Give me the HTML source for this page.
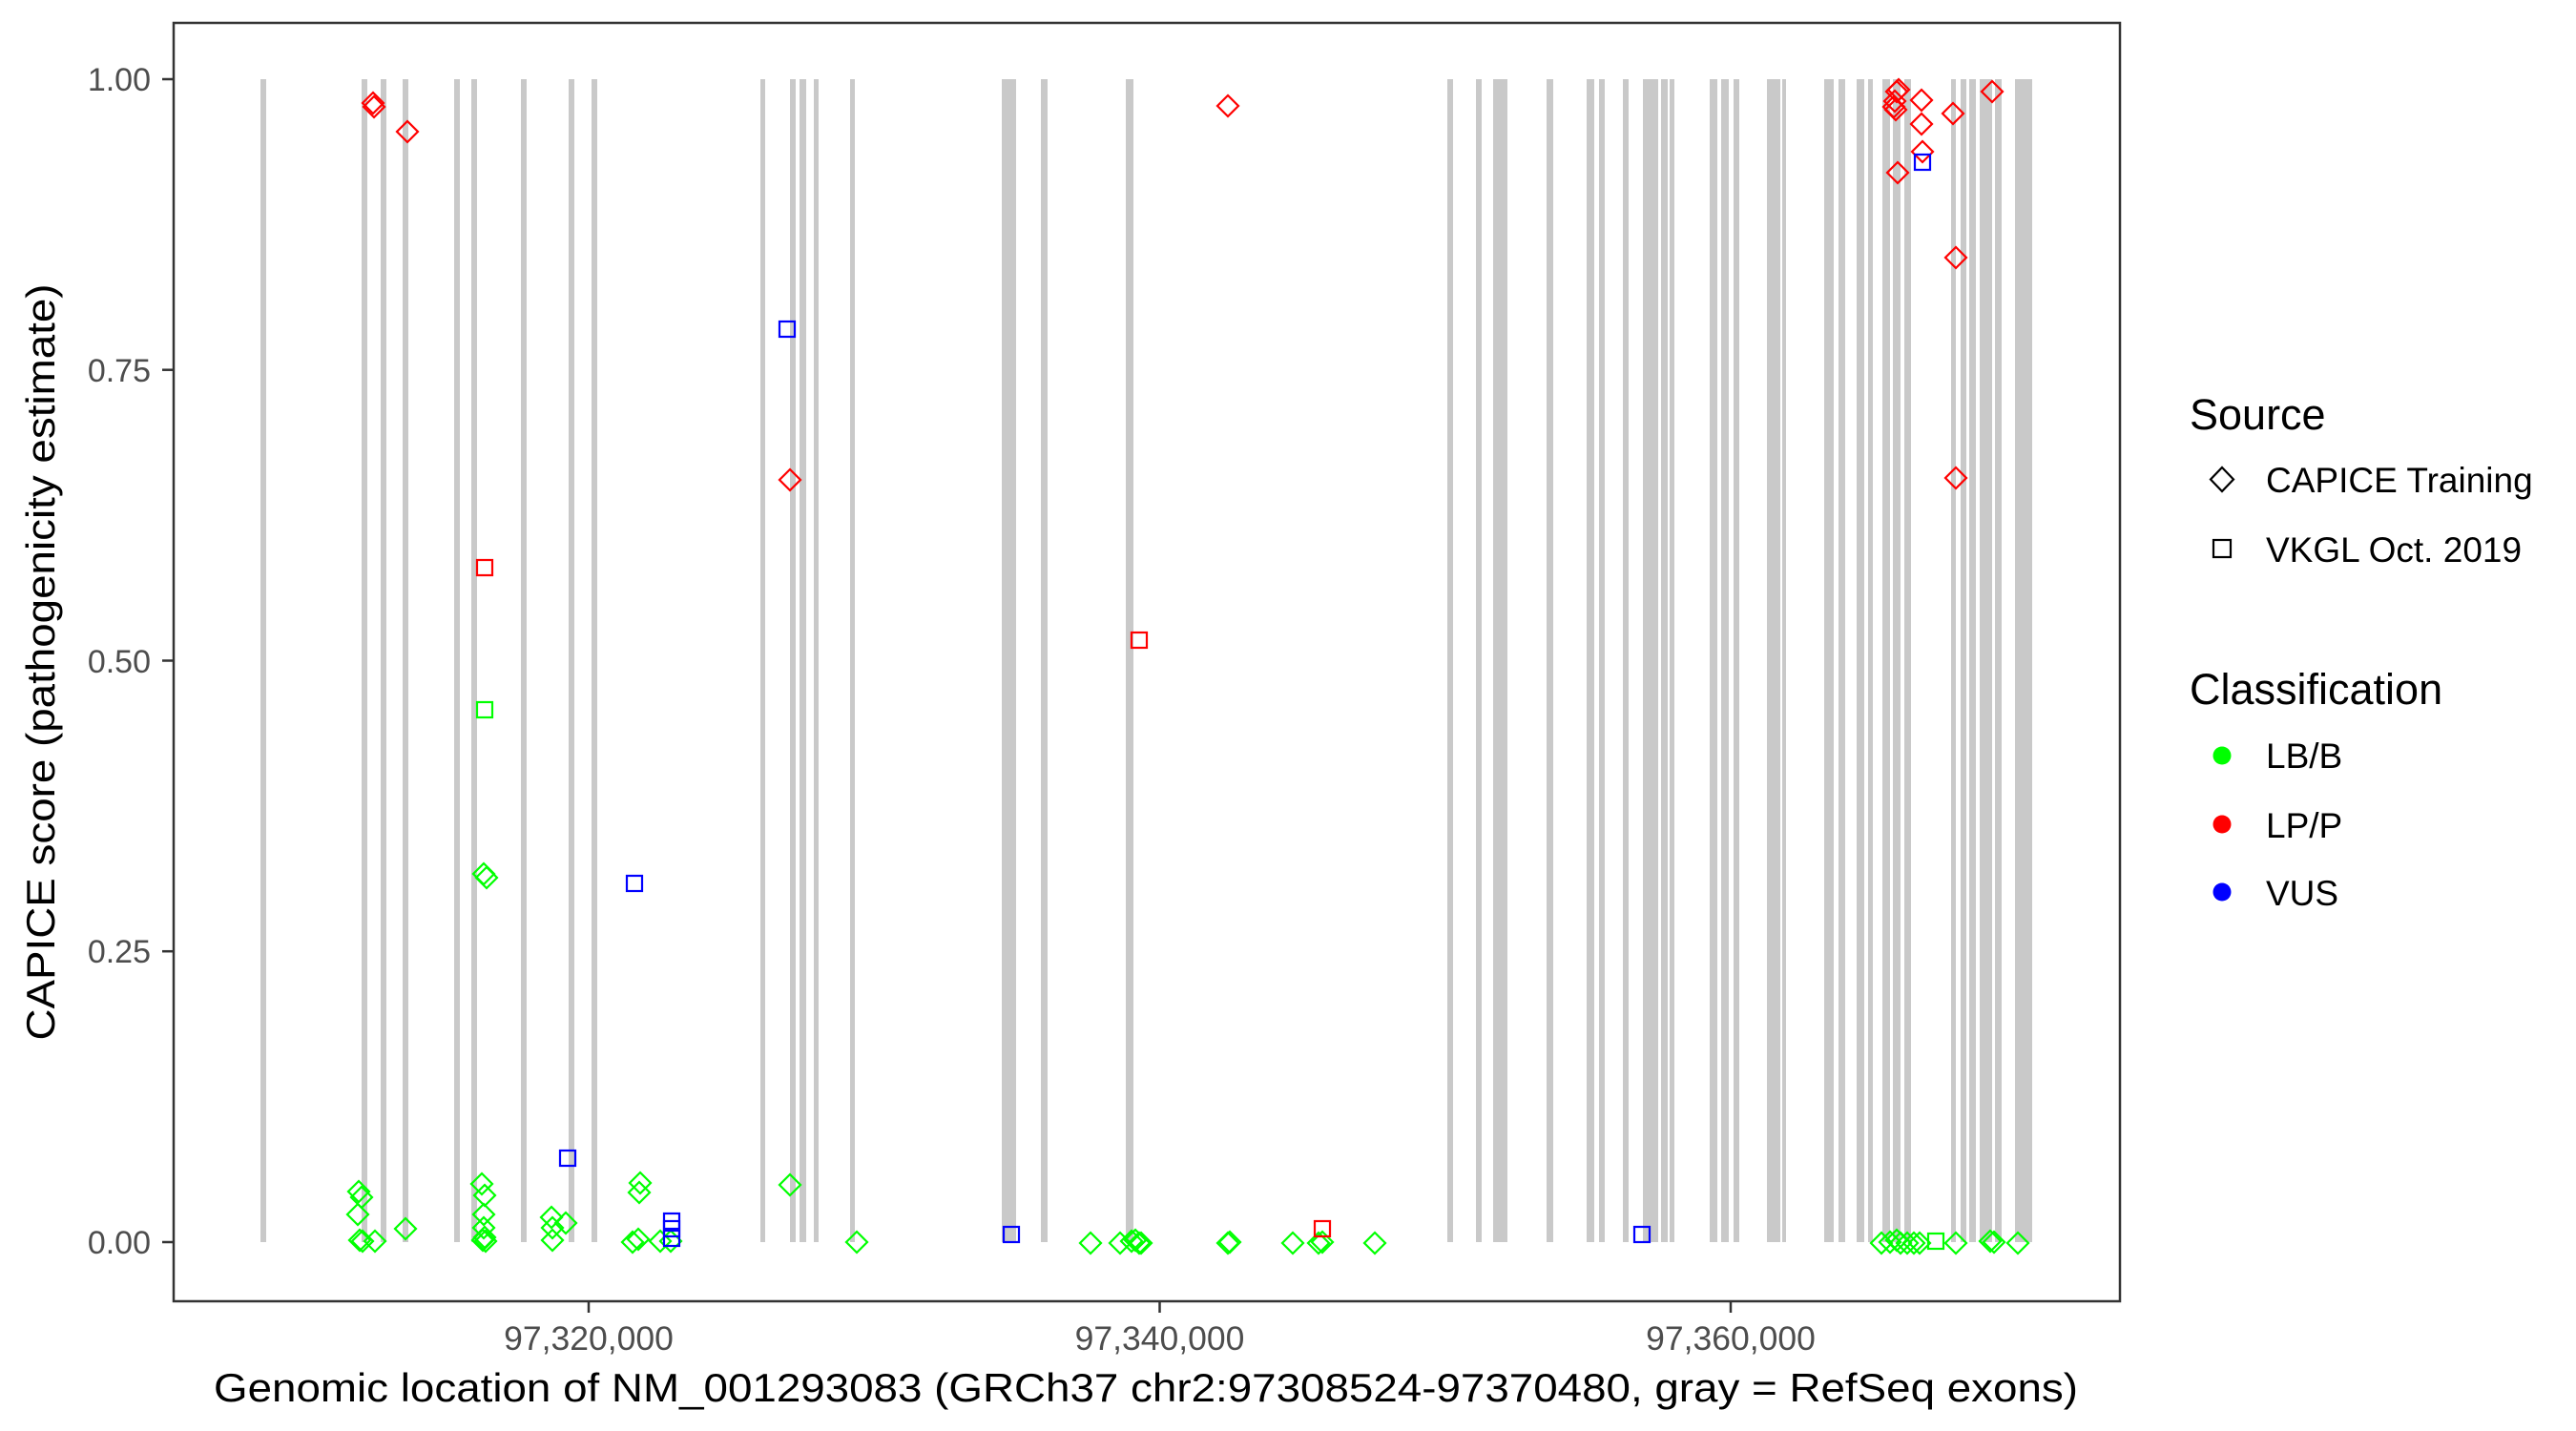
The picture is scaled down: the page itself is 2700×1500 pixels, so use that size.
<!DOCTYPE html>
<html><head><meta charset="utf-8"><style>html,body{margin:0;padding:0;background:#fff}svg{display:block}</style></head>
<body>
<svg width="2700" height="1500" viewBox="0 0 2700 1500" xmlns="http://www.w3.org/2000/svg" font-family="Liberation Sans, Arial, sans-serif">
<defs>
<path id="d" d="M0,-11L11,0L0,11L-11,0Z"/>
<rect id="s" x="-8" y="-8" width="16" height="16"/>
</defs>
<rect width="2700" height="1500" fill="#fff"/>
<g fill="#c9c9c9">
<rect x="273" y="83" width="6" height="1219"/>
<rect x="379" y="83" width="6" height="1219"/>
<rect x="399" y="83" width="6" height="1219"/>
<rect x="422" y="83" width="6" height="1219"/>
<rect x="476" y="83" width="6" height="1219"/>
<rect x="494" y="83" width="6" height="1219"/>
<rect x="546" y="83" width="6" height="1219"/>
<rect x="596" y="83" width="6" height="1219"/>
<rect x="620" y="83" width="6" height="1219"/>
<rect x="797" y="83" width="5" height="1219"/>
<rect x="828" y="83" width="6" height="1219"/>
<rect x="838" y="83" width="7" height="1219"/>
<rect x="853" y="83" width="5" height="1219"/>
<rect x="891" y="83" width="5" height="1219"/>
<rect x="1050" y="83" width="15" height="1219"/>
<rect x="1091" y="83" width="7" height="1219"/>
<rect x="1180" y="83" width="8" height="1219"/>
<rect x="1517" y="83" width="6" height="1219"/>
<rect x="1547" y="83" width="6" height="1219"/>
<rect x="1565" y="83" width="15" height="1219"/>
<rect x="1621" y="83" width="7" height="1219"/>
<rect x="1663" y="83" width="8" height="1219"/>
<rect x="1676" y="83" width="6" height="1219"/>
<rect x="1701" y="83" width="6" height="1219"/>
<rect x="1722" y="83" width="16" height="1219"/>
<rect x="1741" y="83" width="7" height="1219"/>
<rect x="1750" y="83" width="5" height="1219"/>
<rect x="1792" y="83" width="8" height="1219"/>
<rect x="1804" y="83" width="8" height="1219"/>
<rect x="1817" y="83" width="6" height="1219"/>
<rect x="1852" y="83" width="14" height="1219"/>
<rect x="1868" y="83" width="4" height="1219"/>
<rect x="1912" y="83" width="10" height="1219"/>
<rect x="1927" y="83" width="7" height="1219"/>
<rect x="1946" y="83" width="8" height="1219"/>
<rect x="1958" y="83" width="5" height="1219"/>
<rect x="1973" y="83" width="8" height="1219"/>
<rect x="1984" y="83" width="8" height="1219"/>
<rect x="1996" y="83" width="7" height="1219"/>
<rect x="2045" y="83" width="5" height="1219"/>
<rect x="2055" y="83" width="6" height="1219"/>
<rect x="2064" y="83" width="7" height="1219"/>
<rect x="2075" y="83" width="13" height="1219"/>
<rect x="2091" y="83" width="7" height="1219"/>
<rect x="2112" y="83" width="18" height="1219"/>
</g>
<g fill="none" stroke-width="2.2">
<g stroke="#00ff00">
<use href="#s" x="508" y="744"/><use href="#s" x="2029" y="1301"/>
<use href="#d" x="507" y="916"/><use href="#d" x="510" y="920"/><use href="#d" x="376" y="1249"/><use href="#d" x="379" y="1255"/><use href="#d" x="375" y="1273"/><use href="#d" x="377" y="1300"/><use href="#d" x="380" y="1301"/><use href="#d" x="393" y="1301"/><use href="#d" x="425" y="1288"/><use href="#d" x="505" y="1241"/><use href="#d" x="508" y="1253"/><use href="#d" x="507" y="1273"/><use href="#d" x="507" y="1287"/><use href="#d" x="508" y="1297"/><use href="#d" x="509" y="1301"/><use href="#d" x="506" y="1300"/><use href="#d" x="578" y="1276"/><use href="#d" x="579" y="1287"/><use href="#d" x="593" y="1282"/><use href="#d" x="579" y="1300"/><use href="#d" x="671" y="1240"/><use href="#d" x="670" y="1250"/><use href="#d" x="663" y="1302"/><use href="#d" x="669" y="1299"/><use href="#d" x="692" y="1301"/><use href="#d" x="703" y="1301"/><use href="#d" x="828" y="1242"/><use href="#d" x="898" y="1302"/><use href="#d" x="1143" y="1303"/><use href="#d" x="1174" y="1303"/><use href="#d" x="1186" y="1301"/><use href="#d" x="1190" y="1300"/><use href="#d" x="1194" y="1303"/><use href="#d" x="1196" y="1303"/><use href="#d" x="1287" y="1303"/><use href="#d" x="1289" y="1302"/><use href="#d" x="1355" y="1303"/><use href="#d" x="1382" y="1303"/><use href="#d" x="1386" y="1302"/><use href="#d" x="1441" y="1303"/><use href="#d" x="1972" y="1303"/><use href="#d" x="1981" y="1302"/><use href="#d" x="1988" y="1300"/><use href="#d" x="1992" y="1303"/><use href="#d" x="1999" y="1303"/><use href="#d" x="2006" y="1303"/><use href="#d" x="2012" y="1303"/><use href="#d" x="2050" y="1303"/><use href="#d" x="2086" y="1301"/><use href="#d" x="2090" y="1302"/><use href="#d" x="2115" y="1303"/>
</g>
<g stroke="#ff0000">
<use href="#s" x="508" y="595"/><use href="#s" x="1194" y="671"/><use href="#s" x="1386" y="1288"/>
<use href="#d" x="391" y="108"/><use href="#d" x="392" y="112"/><use href="#d" x="427" y="138"/><use href="#d" x="828" y="503"/><use href="#d" x="1287" y="111"/><use href="#d" x="1988" y="96"/><use href="#d" x="1986" y="106"/><use href="#d" x="1987" y="115"/><use href="#d" x="1990" y="94"/><use href="#d" x="1985" y="112"/><use href="#d" x="2014" y="105"/><use href="#d" x="2014" y="130"/><use href="#d" x="2047" y="119"/><use href="#d" x="2088" y="96"/><use href="#d" x="2015" y="159"/><use href="#d" x="1989" y="181"/><use href="#d" x="2050" y="270"/><use href="#d" x="2050" y="501"/>
</g>
<g stroke="#0000ff">
<use href="#s" x="825" y="345"/><use href="#s" x="665" y="926"/><use href="#s" x="595" y="1214"/><use href="#s" x="704" y="1280"/><use href="#s" x="704" y="1288"/><use href="#s" x="704" y="1298"/><use href="#s" x="1060" y="1294"/><use href="#s" x="1721" y="1294"/><use href="#s" x="2015" y="170"/>
</g>
</g>
<rect x="182" y="24" width="2040" height="1340" fill="none" stroke="#333" stroke-width="2.5"/>
<g stroke="#333" stroke-width="2.5">
<line x1="170" y1="83" x2="182" y2="83"/><line x1="170" y1="387.7" x2="182" y2="387.7"/><line x1="170" y1="692.5" x2="182" y2="692.5"/><line x1="170" y1="997.2" x2="182" y2="997.2"/><line x1="170" y1="1302" x2="182" y2="1302"/>
<line x1="617" y1="1364" x2="617" y2="1376"/><line x1="1215.5" y1="1364" x2="1215.5" y2="1376"/><line x1="1814" y1="1364" x2="1814" y2="1376"/>
</g>
<g fill="#4d4d4d" font-size="34" text-anchor="end">
<text x="158" y="95">1.00</text><text x="158" y="400">0.75</text><text x="158" y="705">0.50</text><text x="158" y="1009">0.25</text><text x="158" y="1314">0.00</text>
</g>
<g fill="#4d4d4d" font-size="35.5" text-anchor="middle">
<text x="617" y="1415">97,320,000</text><text x="1215.5" y="1415">97,340,000</text><text x="1814" y="1415">97,360,000</text>
</g>
<text x="1201" y="1469" font-size="42" text-anchor="middle" textLength="1954" lengthAdjust="spacingAndGlyphs">Genomic location of NM_001293083 (GRCh37 chr2:97308524-97370480, gray = RefSeq exons)</text>
<text transform="translate(57,694) rotate(-90)" font-size="42" text-anchor="middle" textLength="793" lengthAdjust="spacingAndGlyphs">CAPICE score (pathogenicity estimate)</text>
<text x="2295" y="450" font-size="45">Source</text>
<path d="M2329,490L2341,502.5L2329,515L2317,502.5Z" fill="none" stroke="#000" stroke-width="2.2"/>
<text x="2375" y="516" font-size="37">CAPICE Training</text>
<rect x="2320" y="566" width="18" height="18" fill="none" stroke="#000" stroke-width="2.2"/>
<text x="2375" y="589" font-size="37">VKGL Oct. 2019</text>
<text x="2295" y="738" font-size="45">Classification</text>
<circle cx="2329" cy="792" r="9.5" fill="#00ff00"/><text x="2375" y="805" font-size="37">LB/B</text>
<circle cx="2329" cy="864" r="9.5" fill="#ff0000"/><text x="2375" y="878" font-size="37">LP/P</text>
<circle cx="2329" cy="935" r="9.5" fill="#0000ff"/><text x="2375" y="949" font-size="37">VUS</text>
</svg>
</body></html>
